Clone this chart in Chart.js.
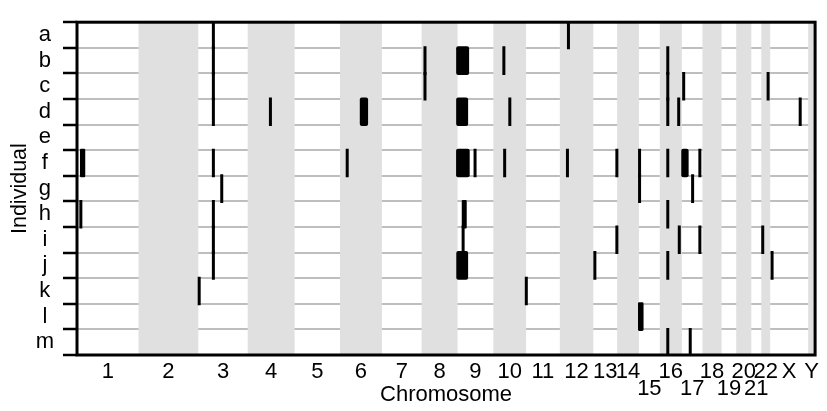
<!DOCTYPE html>
<html>
<head>
<meta charset="utf-8">
<title>Segments by individual and chromosome</title>
<script src="https://cdn.jsdelivr.net/npm/chart.js@4/dist/chart.umd.min.js"></script>
<style>
  html, body { margin: 0; padding: 0; background: #ffffff; }
  canvas { display: block; }
</style>
</head>
<body>
<canvas id="chart" width="827" height="411"></canvas>
<script>
// Individuals, listed top to bottom
const individuals = ['a', 'b', 'c', 'd', 'e', 'f', 'g', 'h', 'i', 'j', 'k', 'l', 'm'];

// Chromosomes in genome order and the span plotted for each one (Mb)
const chromosomes = ['1', '2', '3', '4', '5', '6', '7', '8', '9', '10', '11', '12',
                     '13', '14', '15', '16', '17', '18', '19', '20', '21', '22', 'X', 'Y'];
const chromLengthMb = [248, 241, 199, 189, 183, 169, 160, 145, 144, 132, 136, 135,
                       96, 88, 84, 89, 83, 77, 59, 61, 40, 36, 153, 28];

// Chromosome labels printed on the second row under the axis
const lowerRowLabels = ['15', '17', '19', '21'];

// Called segments: individual, chromosome, start (Mb), end (Mb)
const segments = [
  ['a', '3', 60.7, 60.7], ['a', '12', 34.8, 34.8],

  ['b', '3', 60.7, 60.7], ['b', '8', 13.6, 13.6], ['b', '9', 0.3, 40.4],
  ['b', '10', 42.5, 42.5], ['b', '16', 32.2, 32.2],

  ['c', '3', 60.7, 60.7], ['c', '8', 13.6, 13.6], ['c', '16', 32.2, 32.2],
  ['c', '17', 7.3, 7.3], ['c', '22', 27.6, 27.6],

  ['d', '3', 60.7, 60.7], ['d', '4', 91.6, 91.6], ['d', '6', 85.9, 107.2],
  ['d', '9', 0.3, 36.4], ['d', '10', 66.5, 66.5], ['d', '16', 32.2, 32.2],
  ['d', '16', 76.2, 76.2], ['d', 'X', 120.9, 120.9],

  ['f', '1', 18.0, 27.2], ['f', '3', 60.7, 60.7], ['f', '6', 29.1, 29.1],
  ['f', '9', 0.0, 42.8], ['f', '9', 70.4, 70.4], ['f', '10', 45.7, 45.7],
  ['f', '12', 30.8, 30.8], ['f', '13', 95.0, 95.0], ['f', '15', 2.5, 2.5],
  ['f', '16', 32.2, 32.2], ['f', '17', 3.6, 21.2], ['f', '17', 72.5, 72.5],

  ['g', '3', 94.4, 94.4], ['g', '15', 2.5, 2.5], ['g', '17', 43.3, 43.3],

  ['h', '1', 15.5, 15.5], ['h', '3', 60.7, 60.7], ['h', '9', 22.8, 30.8],
  ['h', '16', 32.2, 32.2],

  ['i', '3', 60.7, 60.7], ['i', '9', 22.3, 22.3], ['i', '13', 95.0, 95.0],
  ['i', '16', 78.6, 78.6], ['i', '17', 72.5, 72.5], ['i', '22', 5.9, 5.9],

  ['j', '3', 60.7, 60.7], ['j', '9', 0.8, 36.4], ['j', '13', 6.3, 6.3],
  ['j', '16', 32.2, 32.2], ['j', 'X', 7.6, 7.6],

  ['k', '3', 3.5, 3.5], ['k', '11', 1.0, 1.0],

  ['l', '15', 2.1, 12.5],

  ['m', '16', 32.2, 32.2], ['m', '17', 33.7, 33.7]
];

// Cumulative genome coordinates
const chromOffset = [];
let genomeLength = 0;
chromLengthMb.forEach(len => { chromOffset.push(genomeLength); genomeLength += len; });
const toGenome = (chr, mb) => chromOffset[chromosomes.indexOf(chr)] + mb;

const segmentBars = segments.map(([ind, chr, start, end]) => ({
  y: ind,
  x: [toGenome(chr, start), toGenome(chr, end)]
}));

// Shaded background for every second chromosome
const chromosomeBands = chromosomes
  .map((chr, i) => ({ y: 'genome', x: [chromOffset[i], chromOffset[i] + chromLengthMb[i]] }))
  .filter((_, i) => i % 2 === 1);

const FONT = 'Liberation Sans, Arial, Helvetica, sans-serif';
Chart.defaults.font.family = FONT;
Chart.defaults.color = '#000000';

// Frame around the plotting region
const frame = {
  id: 'frame',
  afterDatasetsDraw(chart) {
    const { ctx, chartArea: a } = chart;
    ctx.save();
    ctx.strokeStyle = '#000000';
    ctx.lineWidth = 3;
    ctx.strokeRect(a.left, a.top, a.right - a.left, a.bottom - a.top);
    ctx.restore();
  }
};

new Chart(document.getElementById('chart'), {
  type: 'bar',
  data: {
    labels: individuals,
    datasets: [
      {
        label: 'Segments',
        data: segmentBars,
        yAxisID: 'y',
        backgroundColor: '#000000',
        borderWidth: 0,
        borderRadius: 2,
        borderSkipped: false,
        inflateAmount: 1.5,
        barPercentage: 1,
        categoryPercentage: 1,
        grouped: false,
        order: 1
      },
      {
        label: 'Chromosome bands',
        data: chromosomeBands,
        yAxisID: 'band',
        backgroundColor: '#e0e0e0',
        borderWidth: 0,
        inflateAmount: 0,
        barPercentage: 1,
        categoryPercentage: 1,
        grouped: false,
        order: 2
      }
    ]
  },
  options: {
    indexAxis: 'y',
    responsive: false,
    animation: false,
    devicePixelRatio: 1,
    layout: { padding: { top: 8, right: 7, bottom: 0, left: 0 } },
    plugins: {
      legend: { display: false },
      tooltip: { enabled: false }
    },
    scales: {
      x: {
        type: 'linear',
        min: 0,
        max: genomeLength,
        grid: { display: false, drawTicks: false },
        border: { display: false },
        afterBuildTicks(scale) {
          scale.ticks = chromosomes.map((c, i) => ({ value: chromOffset[i] + chromLengthMb[i] / 2 }));
        },
        ticks: {
          autoSkip: false,
          maxRotation: 0,
          minRotation: 0,
          padding: 8,
          color: '#000000',
          font: { size: 22, lineHeight: '17.5px' },
          callback: (value, index) => {
            const name = chromosomes[index];
            return lowerRowLabels.includes(name) ? ['', name] : name;
          }
        },
        title: {
          display: true,
          text: 'Chromosome',
          color: '#000000',
          font: { size: 22, lineHeight: 1 },
          padding: { top: 0, bottom: 5 }
        },
        afterFit(scale) { scale.height = 56; }
      },
      y: {
        type: 'category',
        offset: true,
        grid: {
          offset: true,
          color: '#bebebe',
          lineWidth: 2,
          drawTicks: true,
          tickLength: 14,
          tickColor: '#000000',
          tickWidth: 2.5
        },
        border: { display: false },
        ticks: {
          autoSkip: false,
          color: '#000000',
          padding: 9,
          crossAlign: 'center',
          font: { size: 22 }
        },
        title: {
          display: true,
          text: 'Individual',
          color: '#000000',
          font: { size: 21.5, lineHeight: 1.2 },
          padding: { top: 7, bottom: 0 }
        },
        afterFit(scale) { scale.width = 77; }
      },
      band: {
        type: 'category',
        labels: ['genome'],
        display: false,
        offset: true
      }
    }
  },
  plugins: [frame]
});
</script>
</body>
</html>
